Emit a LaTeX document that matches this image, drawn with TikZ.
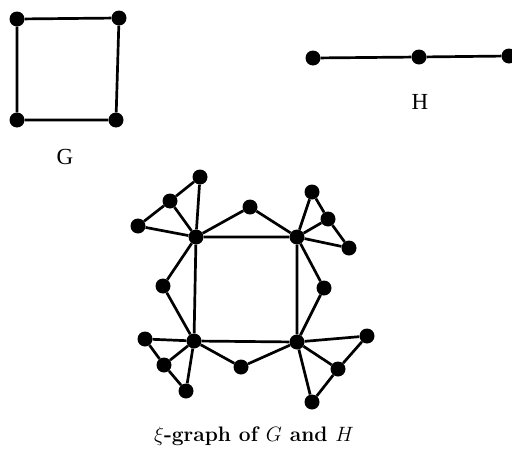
\documentclass[tikz,border=0pt]{standalone}
\usepackage{fontspec}
\newfontfamily\labfont{Liberation Serif}
\begin{document}
\begin{tikzpicture}[x=1pt,y=-1pt,
  dot/.style={circle,fill=black,inner sep=0pt,minimum size=15pt},
  edge/.style={line width=2.7pt},
  lab/.style={font=\labfont\fontsize{23}{26}\selectfont}]
\useasboundingbox (0,0) rectangle (512,450);
% G
\node[dot] (g1) at (17,19) {};
\node[dot] (g2) at (119,18) {};
\node[dot] (g3) at (17,120) {};
\node[dot] (g4) at (116,120) {};
\draw[edge] (g1)--(g2)--(g4)--(g3)--(g1);
\node[lab] (gl) at (65,157) {G};
% H
\node[dot] (h1) at (313,58) {};
\node[dot] (h2) at (419,57) {};
\node[dot] (h3) at (509,56) {};
\draw[edge] (h1)--(h2)--(h3);
\node[lab] (hl) at (420,102) {H};
% xi graph: square
\node[dot] (tl) at (196,237) {};
\node[dot] (tr) at (297,237) {};
\node[dot] (bl) at (194,341) {};
\node[dot] (br) at (297,342) {};
\node[dot] (ml) at (163,286) {};
\node[dot] (mr) at (324,288) {};
\node[dot] (mt) at (250,207) {};
\node[dot] (mb) at (241,367) {};
\draw[edge] (tl)--(tr)--(br)--(bl)--(tl);
\draw[edge] (tl)--(ml)--(bl);
\draw[edge] (tr)--(mr)--(br);
\draw[edge] (tl)--(mt)--(tr);
\draw[edge] (bl)--(mb)--(br);
% fans
\node[dot] (a1) at (200,177) {};
\node[dot] (a2) at (170,201) {};
\node[dot] (a3) at (138,226) {};
\draw[edge] (a1)--(a2)--(a3);
\draw[edge] (tl)--(a1) (tl)--(a2) (tl)--(a3);
\node[dot] (b1) at (312,192) {};
\node[dot] (b2) at (328,219) {};
\node[dot] (b3) at (349,248) {};
\draw[edge] (b1)--(b2)--(b3);
\draw[edge] (tr)--(b1) (tr)--(b2) (tr)--(b3);
\node[dot] (c1) at (145,339) {};
\node[dot] (c2) at (164,365) {};
\node[dot] (c3) at (186,391) {};
\draw[edge] (c1)--(c2)--(c3);
\draw[edge] (bl)--(c1) (bl)--(c2) (bl)--(c3);
\node[dot] (d1) at (367,336) {};
\node[dot] (d2) at (338,369) {};
\node[dot] (d3) at (312,402) {};
\draw[edge] (d1)--(d2)--(d3);
\draw[edge] (br)--(d1) (br)--(d2) (br)--(d3);
% caption
\node[font=\fontsize{21}{24}\selectfont] (cap) at (254,436) {\textbf{$\xi$-graph of $G$ and $H$}};
\end{tikzpicture}
\end{document}
